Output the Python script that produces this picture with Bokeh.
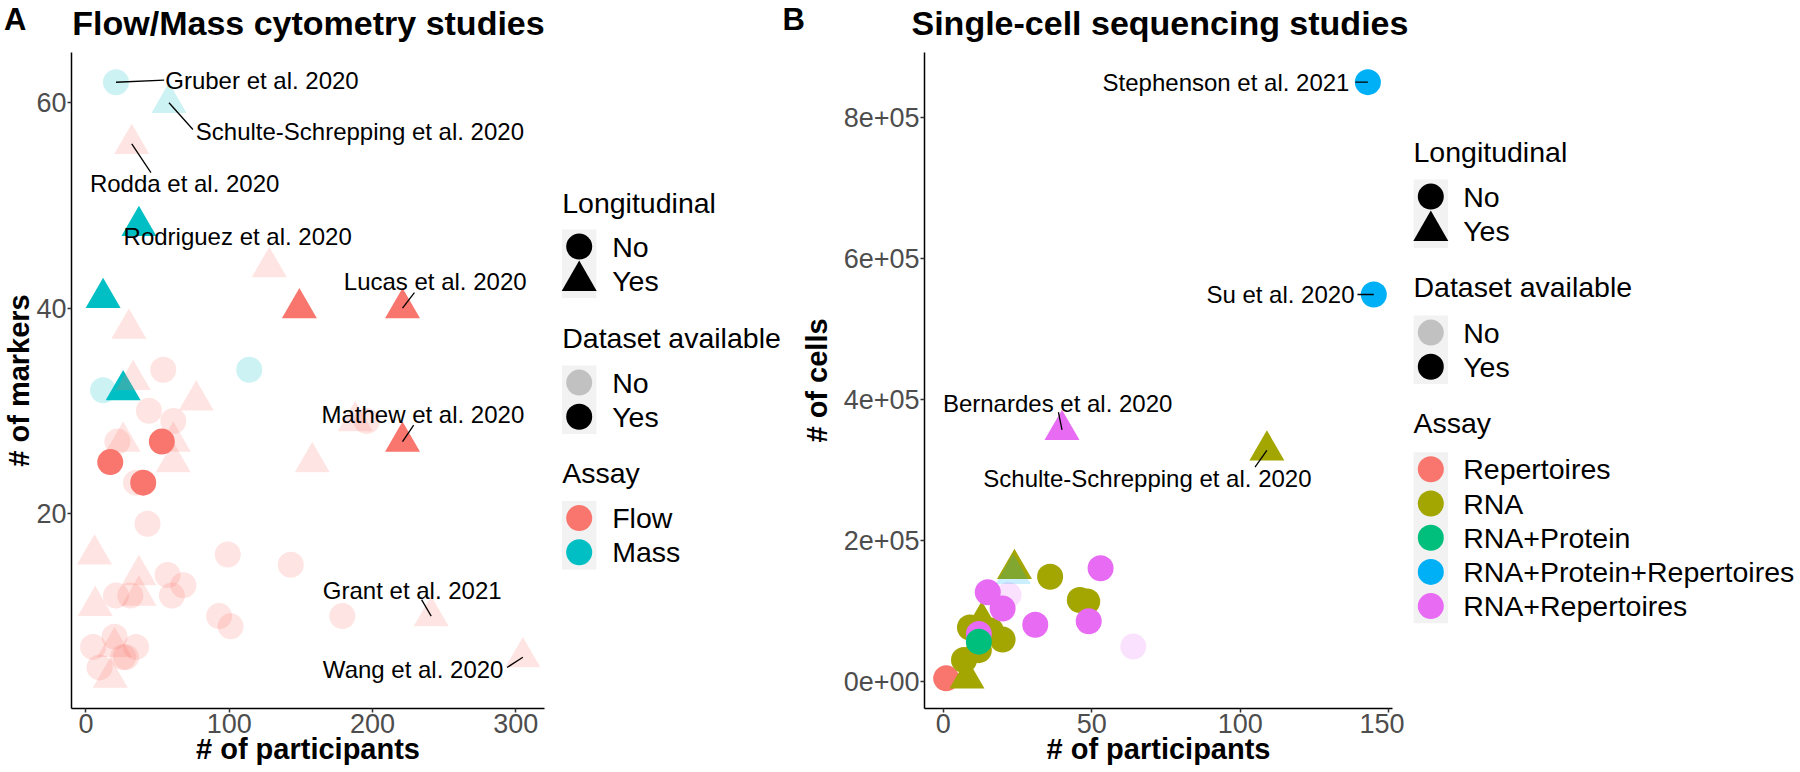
import numpy as np
from bokeh.plotting import figure
from bokeh.models import Range1d, FixedTicker, ColumnDataSource
from bokeh.layouts import row, column
from bokeh.embed import file_html
from bokeh.resources import INLINE
from bokeh.core.properties import value

FONT = "Liberation Sans"

# ---------------- Panel A data: Flow/Mass cytometry studies ----------------
a_participants = [21, 58, 32, 37, 128, 12, 149, 221, 30, 54, 114, 12, 26, 33, 77, 44, 61, 188, 196, 26,
                  61, 22, 53, 221, 61, 158, 17, 35, 40, 43, 6, 99, 143, 37, 57, 68, 37, 21, 31, 60,
                  6.5, 93, 101, 179, 241, 5, 20, 20, 35, 26, 28, 9.5, 17, 305]
a_markers = [62, 60, 56, 48, 44, 41, 40, 40, 38, 34, 34, 32, 32, 33, 31, 30, 29, 29, 29, 27,
             27, 27, 27, 27, 25, 25, 25, 23, 23, 19, 16, 16, 15, 14, 14, 13, 12, 12, 12, 12,
             11, 10, 9, 10, 10, 7, 7, 8, 7, 6, 6, 5, 4, 6]
a_assay = ["Mass", "Mass", "Flow", "Mass", "Flow", "Mass", "Flow", "Flow", "Flow", "Flow",
           "Mass", "Mass", "Mass", "Flow", "Flow", "Flow", "Flow", "Flow", "Flow", "Flow",
           "Flow", "Flow", "Flow", "Flow", "Flow", "Flow", "Flow", "Flow", "Flow", "Flow",
           "Flow", "Flow", "Flow", "Flow", "Flow", "Flow", "Flow", "Flow", "Flow", "Flow",
           "Flow", "Flow", "Flow", "Flow", "Flow", "Flow", "Flow", "Flow", "Flow", "Flow",
           "Flow", "Flow", "Flow", "Flow"]
a_dataset = ["No", "No", "No", "Yes", "No", "Yes", "Yes", "Yes", "No", "No",
             "No", "No", "Yes", "No", "No", "No", "No", "No", "No", "No",
             "No", "No", "Yes", "Yes", "No", "No", "Yes", "No", "Yes", "No",
             "No", "No", "No", "No", "No", "No", "No", "No", "No", "No",
             "No", "No", "No", "No", "No", "No", "No", "No", "No", "No",
             "No", "No", "No", "No"]
a_longitudinal = ["No", "Yes", "Yes", "Yes", "Yes", "Yes", "Yes", "Yes", "Yes", "No",
                  "No", "No", "Yes", "Yes", "Yes", "No", "No", "Yes", "No", "Yes",
                  "Yes", "No", "No", "Yes", "Yes", "Yes", "No", "No", "No", "No",
                  "Yes", "No", "No", "Yes", "No", "No", "Yes", "No", "No", "No",
                  "Yes", "No", "No", "No", "Yes", "No", "Yes", "No", "No", "No",
                  "No", "No", "Yes", "Yes"]
a_study = ["Gruber et al. 2020", "Schulte-Schrepping et al. 2020", "Rodda et al. 2020",
           "Rodriguez et al. 2020", "", "", "", "Lucas et al. 2020", "", "",
           "", "", "", "", "", "", "", "", "", "",
           "", "", "", "Mathew et al. 2020", "", "", "", "", "", "",
           "", "", "", "", "", "", "", "", "", "",
           "", "", "", "", "Grant et al. 2021", "", "", "", "", "",
           "", "", "", "Wang et al. 2020"]

# ---------------- Panel B data: Single-cell sequencing studies ----------------
b_participants = [1, 8, 7, 12, 9, 16, 20, 13, 12, 12, 22, 15, 20, 31, 36, 24, 23.6, 46, 48.5, 49,
                  53, 64, 143, 145, 40, 109]
b_cells = [5000, 5000, 31000, 45000, 77000, 73000, 60000, 86000, 68000, 57000, 123000, 127000,
           104000, 81000, 149000, 160000, 153000, 116000, 114000, 86000, 161000, 50000,
           850000, 549000, 357000, 328000]
b_assay = ["Repertoires", "RNA", "RNA", "RNA", "RNA", "RNA", "RNA", "RNA", "RNA+Repertoires",
           "RNA+Protein", "RNA+Repertoires", "RNA+Repertoires", "RNA+Repertoires", "RNA+Repertoires",
           "RNA", "RNA", "RNA+Protein+Repertoires", "RNA", "RNA", "RNA+Repertoires",
           "RNA+Repertoires", "RNA+Repertoires", "RNA+Protein+Repertoires", "RNA+Protein+Repertoires",
           "RNA+Repertoires", "RNA"]
b_dataset = ["Yes", "Yes", "Yes", "Yes", "Yes", "Yes", "Yes", "Yes", "Yes", "Yes", "No", "Yes",
             "Yes", "Yes", "Yes", "Yes", "No", "Yes", "Yes", "Yes", "Yes", "No", "Yes", "Yes",
             "Yes", "Yes"]
b_longitudinal = ["No", "Yes", "No", "No", "No", "No", "No", "Yes", "No", "No", "No", "No",
                  "No", "No", "No", "Yes", "Yes", "No", "No", "No", "No", "No", "No", "No",
                  "Yes", "Yes"]
b_study = ["", "", "", "", "", "", "", "", "", "", "", "", "", "", "", "", "", "", "", "", "", "",
           "Stephenson et al. 2021", "Su et al. 2020", "Bernardes et al. 2020",
           "Schulte-Schrepping et al. 2020"]

# tick values / labels
a_xticks = [0, 100, 200, 300]
a_yticks = [20, 40, 60]
b_xticks = [0, 50, 100, 150]
b_yticks = [0, 200000, 400000, 600000, 800000]
b_ytick_labels = ["0e+00", "2e+05", "4e+05", "6e+05", "8e+05"]

# legend categories
long_levels = ["No", "Yes"]
dataset_levels = ["No", "Yes"]
a_assay_levels = ["Flow", "Mass"]
b_assay_levels = ["Repertoires", "RNA", "RNA+Protein", "RNA+Protein+Repertoires", "RNA+Repertoires"]

# ---------------- styles ----------------
A_COLORS = {"Flow": "#F8766D", "Mass": "#00BFC4"}
B_COLORS = {"Repertoires": "#F8766D", "RNA": "#A3A500", "RNA+Protein": "#00BF7D",
            "RNA+Protein+Repertoires": "#00B0F6", "RNA+Repertoires": "#E76BF3"}
ALPHA = {"No": 0.2, "Yes": 1.0}
MARKER = {"No": "circle", "Yes": "triangle"}
MSIZE = {"No": 26, "Yes": 35}

# label layout (text anchor in data units, alignment, segment end in data units)
A_LABELS = {
    "Gruber et al. 2020": (55.4, 62.2, "left", (54.6, 62.2)),
    "Schulte-Schrepping et al. 2020": (76.7, 57.2, "left", (74.7, 57.4)),
    "Rodda et al. 2020": (2.8, 52.1, "left", (45.4, 53.2)),
    "Rodriguez et al. 2020": (26.3, 47.0, "left", None),
    "Lucas et al. 2020": (180.0, 42.6, "left", (229.3, 41.5)),
    "Mathew et al. 2020": (164.4, 29.6, "left", (228.8, 28.6)),
    "Grant et al. 2021": (165.4, 12.5, "left", (234.3, 11.6)),
    "Wang et al. 2020": (165.4, 4.83, "left", (294.0, 5.0)),
}
B_LABELS = {
    "Stephenson et al. 2021": (136.8, 850000, "right", (138.8, 850000)),
    "Su et al. 2020": (138.5, 549000, "right", (139.5, 549000)),
    "Bernardes et al. 2020": (-0.1, 395000, "left", (38.8, 382400)),
    "Schulte-Schrepping et al. 2020": (13.5, 288000, "left", (105.0, 304500)),
}

# page geometry (pixels)
W_TOTAL, H_TOTAL = 1800, 772
H_TOP = 52            # heading strip
FRAME_BOTTOM = 708    # page y of the panels' x axis
H_ROW = H_TOTAL - H_TOP
B_BOTTOM = H_TOTAL - FRAME_BOTTOM


def make_fig(**kw):
    try:
        return figure(title=None, output_backend="svg", toolbar_location=None, **kw)
    except Exception:
        return figure(output_backend="svg", toolbar_location=None, **kw)


def style_main(p, xlabel, ylabel, xticks, yticks, ylab_over=None, ylab_standoff=-2):
    p.xgrid.visible = False
    p.ygrid.visible = False
    p.outline_line_color = None
    p.background_fill_color = "white"
    p.border_fill_color = "white"
    for ax in (p.xaxis[0], p.yaxis[0]):
        ax.axis_line_color = "black"
        ax.axis_line_width = 1.5
        ax.major_tick_line_color = "#333333"
        ax.major_tick_line_width = 1.5
        ax.major_tick_out = 4
        ax.major_tick_in = 0
        ax.minor_tick_line_color = None
        ax.major_label_text_font = FONT
        ax.major_label_text_font_size = "27px"
        ax.major_label_text_color = "#4D4D4D"
        ax.axis_label_text_font = FONT
        ax.axis_label_text_font_size = "29px"
        ax.axis_label_text_font_style = "bold"
        ax.axis_label_text_color = "black"
    p.xaxis[0].ticker = FixedTicker(ticks=xticks)
    p.yaxis[0].ticker = FixedTicker(ticks=yticks)
    p.xaxis[0].axis_label = xlabel
    p.yaxis[0].axis_label = ylabel
    p.xaxis[0].major_label_standoff = 1
    p.xaxis[0].axis_label_standoff = -3
    p.yaxis[0].major_label_standoff = 1
    p.yaxis[0].axis_label_standoff = ylab_standoff
    if ylab_over:
        p.yaxis[0].major_label_overrides = ylab_over


def draw_points(p, xs, ys, assay, dataset, longi, colors):
    # one glyph in data order, so overlaps stack as in the original
    src = ColumnDataSource(dict(
        x=np.asarray(xs, float), y=np.asarray(ys, float),
        marker=[MARKER[v] for v in longi],
        size=[MSIZE[v] for v in longi],
        color=[colors[a] for a in assay],
        alpha=[ALPHA[d] for d in dataset],
    ))
    p.scatter(x="x", y="y", marker="marker", size="size", fill_color="color",
              fill_alpha="alpha", line_color=None, source=src)


def draw_labels(p, xs, ys, study, layout):
    for i, name in enumerate(study):
        if not name:
            continue
        tx, ty, align, seg = layout[name]
        if seg is not None:
            p.segment(x0=[xs[i]], y0=[ys[i]], x1=[seg[0]], y1=[seg[1]],
                      line_color="black", line_width=1.3)
        p.text(x=[tx], y=[ty], text=[name], text_font=value(FONT), text_font_size="24px",
               text_align=align, text_baseline="middle", text_color="black")


# ---------------- Panel A ----------------
pa = make_fig(width=555, height=H_ROW, x_range=Range1d(-10.05, 320.1), y_range=Range1d(1.0, 64.9),
              min_border_left=71, min_border_right=11, min_border_top=0, min_border_bottom=B_BOTTOM)
style_main(pa, "# of participants", "# of markers", a_xticks, a_yticks, ylab_standoff=-2)
draw_points(pa, a_participants, a_markers, a_assay, a_dataset, a_longitudinal, A_COLORS)
draw_labels(pa, a_participants, a_markers, a_study, A_LABELS)

# ---------------- Panel B ----------------
pb = make_fig(width=607, height=H_ROW, x_range=Range1d(-6.3, 151.3), y_range=Range1d(-37700, 892000),
              min_border_left=125, min_border_right=12, min_border_top=0, min_border_bottom=B_BOTTOM)
style_main(pb, "# of participants", "# of cells", b_xticks, b_yticks,
           dict(zip(b_yticks, b_ytick_labels)), ylab_standoff=8)
draw_points(pb, b_participants, b_cells, b_assay, b_dataset, b_longitudinal, B_COLORS)
draw_labels(pb, b_participants, b_cells, b_study, B_LABELS)


# ---------------- legends & heading strip ----------------
def blank_fig(w, h, y0, y1, bottom=0):
    p = make_fig(width=w, height=h, x_range=Range1d(0, w), y_range=Range1d(y0, y1),
                 min_border_left=0, min_border_right=0, min_border_top=0, min_border_bottom=bottom,
                 x_axis_type=None, y_axis_type=None)
    p.outline_line_color = None
    p.background_fill_color = "white"
    p.border_fill_color = "white"
    return p


ROW_H = 34.2
LEG_FS = "28.5px"


def legend_block(p, x_title, x_key, x_label, title_mid, box_top, title, items):
    p.text(x=[x_title], y=[title_mid], text=[title], text_font=value(FONT), text_font_size=LEG_FS,
           text_align="left", text_baseline="middle", text_color="black")
    n = len(items)
    p.quad(left=[x_key - 17.2], right=[x_key + 17.2], top=[box_top], bottom=[box_top + n * ROW_H],
           fill_color="#F2F2F2", line_color=None)
    for k, (lab, marker, size, color, alpha) in enumerate(items):
        yc = box_top + (k + 0.5) * ROW_H
        p.scatter(x=[x_key], y=[yc], marker=marker, size=size, fill_color=color,
                  fill_alpha=alpha, line_color=None)
        p.text(x=[x_label], y=[yc], text=[lab], text_font=value(FONT), text_font_size=LEG_FS,
               text_align="left", text_baseline="middle", text_color="black")


def long_items():
    return [(lv, MARKER[lv], MSIZE[lv], "black", 1.0) for lv in long_levels]


def ds_items():
    return [(lv, "circle", 26, "black", ALPHA[lv]) for lv in dataset_levels]


# legend figures use page y coordinates over the same frame as the panels
la = blank_fig(242, H_ROW, FRAME_BOTTOM, H_TOP, bottom=B_BOTTOM)
legend_block(la, 6.7, 23.7, 56.7, 202.0, 229, "Longitudinal", long_items())
legend_block(la, 6.7, 23.7, 56.7, 337.5, 365, "Dataset available", ds_items())
legend_block(la, 6.7, 23.7, 56.7, 472.5, 500.5, "Assay",
             [(lv, "circle", 26, A_COLORS[lv], 1.0) for lv in a_assay_levels])

lb = blank_fig(396, H_ROW, FRAME_BOTTOM, H_TOP, bottom=B_BOTTOM)
legend_block(lb, 9, 26.3, 58.7, 151.5, 179, "Longitudinal", long_items())
legend_block(lb, 9, 26.3, 58.7, 286.5, 315, "Dataset available", ds_items())
legend_block(lb, 9, 26.3, 58.7, 422.8, 451.7, "Assay",
             [(lv, "circle", 26, B_COLORS[lv], 1.0) for lv in b_assay_levels])

top = blank_fig(W_TOTAL, H_TOP, H_TOP, 0)
top.text(x=[3.6, 782], y=[18.5, 18.5], text=["A", "B"], text_font=value(FONT), text_font_size="31px",
         text_font_style="bold", text_align="left", text_baseline="middle", text_color="black")
top.text(x=[71.8, 911], y=[22.0, 22.0],
         text=["Flow/Mass cytometry studies", "Single-cell sequencing studies"],
         text_font=value(FONT), text_font_size="34px", text_font_style="bold",
         text_align="left", text_baseline="middle", text_color="black")

layout = column(top, row(pa, la, pb, lb, spacing=0), spacing=0)
open("out.html", "w").write(file_html(layout, INLINE))
